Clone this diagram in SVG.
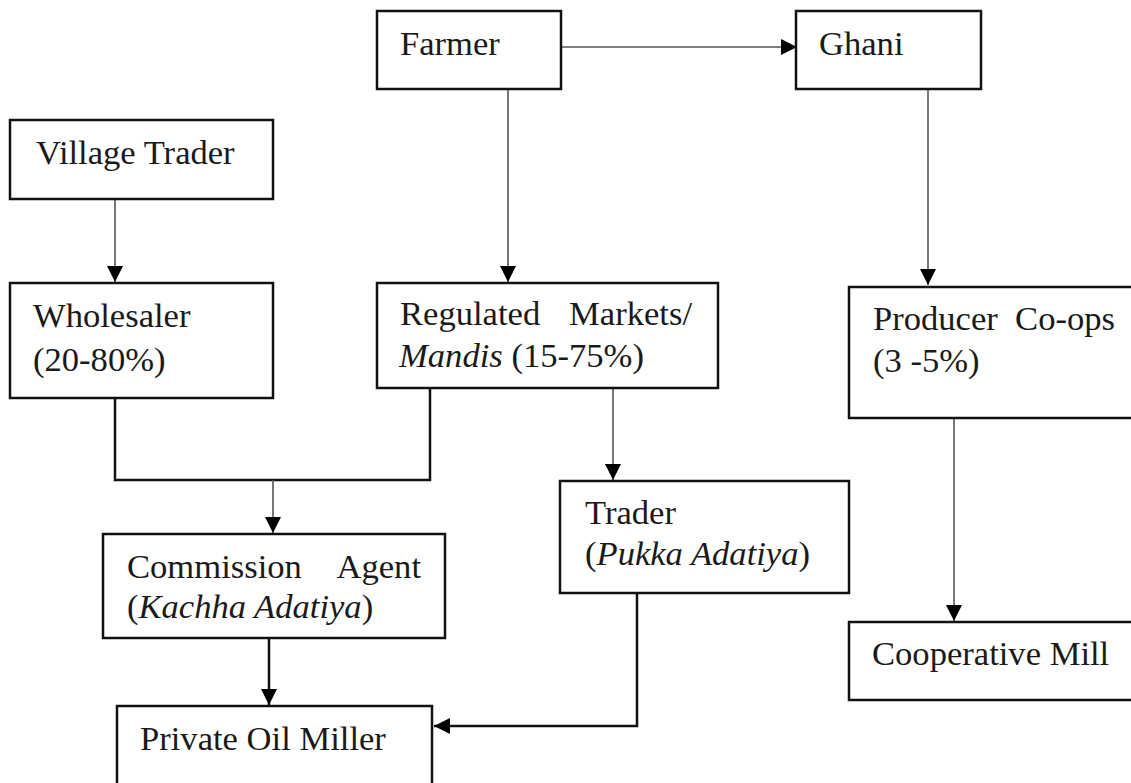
<svg xmlns="http://www.w3.org/2000/svg" width="1131" height="783" viewBox="0 0 1131 783">
<style>
.box{fill:#fff;stroke:#111;stroke-width:2.5}
.t{font-family:"Liberation Serif","Times New Roman",serif;font-size:34.6px;fill:#1a1a1a}
.i{font-style:italic}
.ln{fill:none;stroke:#555;stroke-width:1.6}
.lk{fill:none;stroke:#111;stroke-width:2.5}
</style>
<defs>
<marker id="ah" viewBox="0 0 16 16" refX="16" refY="8" markerWidth="16" markerHeight="16" markerUnits="userSpaceOnUse" orient="auto">
<path d="M0,0 L16,8 L0,16 Z" fill="#000"/>
</marker>
</defs>
<rect width="1131" height="783" fill="#fff"/>
<g id="connectors">
<line class="ln" x1="561" y1="47" x2="797" y2="47" marker-end="url(#ah)"/>
<line class="ln" x1="508" y1="89" x2="508" y2="282" marker-end="url(#ah)"/>
<line class="ln" x1="928" y1="89" x2="928" y2="285" marker-end="url(#ah)"/>
<line class="ln" x1="115" y1="199" x2="115" y2="282" marker-end="url(#ah)"/>
<polyline class="lk" points="115,398 115,480 430,480 430,388"/>
<line class="ln" x1="273" y1="480" x2="273" y2="533" marker-end="url(#ah)"/>
<line class="ln" x1="613" y1="388" x2="613" y2="480" marker-end="url(#ah)"/>
<line class="lk" x1="269" y1="638" x2="269" y2="705" marker-end="url(#ah)"/>
<polyline class="lk" points="637,593 637,726 434,726" marker-end="url(#ah)"/>
<line class="ln" x1="954" y1="418" x2="954" y2="621" marker-end="url(#ah)"/>
</g>
<g id="farmer">
<rect class="box" x="377" y="11" width="184" height="78"/>
<text class="t" x="400" y="55">Farmer</text>
</g>
<g id="ghani">
<rect class="box" x="796" y="11" width="185" height="78"/>
<text class="t" x="819" y="55">Ghani</text>
</g>
<g id="village-trader">
<rect class="box" x="10" y="120" width="263" height="79"/>
<text class="t" x="36" y="164">Village Trader</text>
</g>
<g id="wholesaler">
<rect class="box" x="10" y="283" width="263" height="115"/>
<text class="t" x="33" y="327">Wholesaler</text>
<text class="t" x="33" y="371">(20-80%)</text>
</g>
<g id="regulated-markets">
<rect class="box" x="377" y="283" width="341" height="105"/>
<text class="t" x="400" y="325">Regulated</text>
<text class="t" x="692" y="325" text-anchor="end">Markets/</text>
<text class="t" x="399" y="367"><tspan class="i">Mandis</tspan> (15-75%)</text>
</g>
<g id="producer-coops">
<rect class="box" x="849" y="287" width="290" height="131"/>
<text class="t" x="873" y="330">Producer</text>
<text class="t" x="1115" y="330" text-anchor="end">Co-ops</text>
<text class="t" x="873" y="372">(3 -5%)</text>
</g>
<g id="trader">
<rect class="box" x="560" y="481" width="289" height="112"/>
<text class="t" x="585" y="524">Trader</text>
<text class="t" x="585" y="565">(<tspan class="i">Pukka Adatiya</tspan>)</text>
</g>
<g id="commission-agent">
<rect class="box" x="103" y="534" width="342" height="104"/>
<text class="t" x="127" y="578">Commission</text>
<text class="t" x="421" y="578" text-anchor="end">Agent</text>
<text class="t" x="127" y="618">(<tspan class="i">Kachha Adatiya</tspan>)</text>
</g>
<g id="cooperative-mill">
<rect class="box" x="849" y="622" width="290" height="78"/>
<text class="t" x="872" y="665">Cooperative Mill</text>
</g>
<g id="private-oil-miller">
<rect class="box" x="117" y="706" width="315" height="90"/>
<text class="t" x="140" y="750">Private Oil Miller</text>
</g>
</svg>
